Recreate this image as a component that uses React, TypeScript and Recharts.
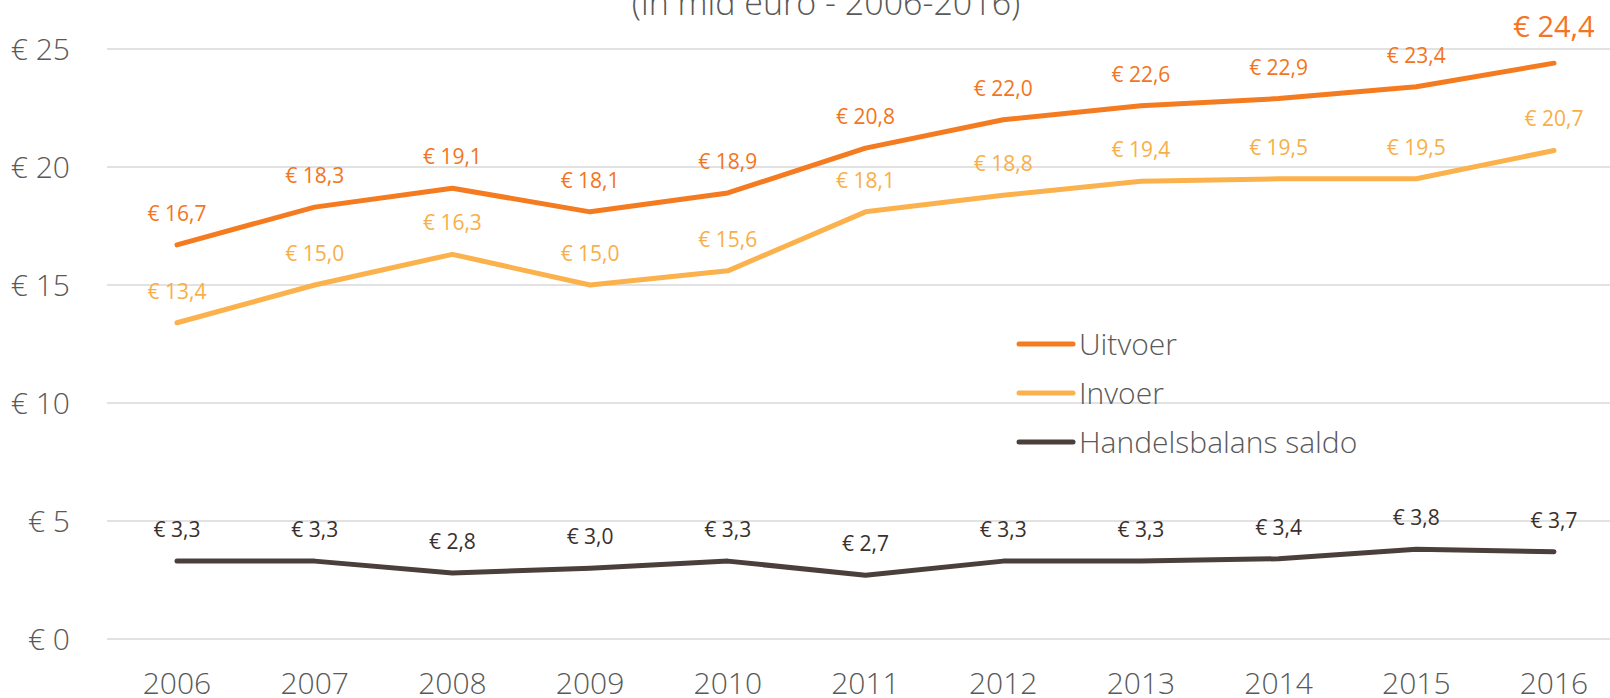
import { CartesianGrid, LabelList, Line, LineChart, XAxis, YAxis } from "recharts"

const years = ["2006", "2007", "2008", "2009", "2010", "2011", "2012", "2013", "2014", "2015", "2016"]
const uitvoer = [16.7, 18.3, 19.1, 18.1, 18.9, 20.8, 22.0, 22.6, 22.9, 23.4, 24.4]
const invoer = [13.4, 15.0, 16.3, 15.0, 15.6, 18.1, 18.8, 19.4, 19.5, 19.5, 20.7]
const saldo = [3.3, 3.3, 2.8, 3.0, 3.3, 2.7, 3.3, 3.3, 3.4, 3.8, 3.7]
const yTicks = [0, 5, 10, 15, 20, 25]

const data = years.map((year, i) => ({
  year,
  uitvoer: uitvoer[i],
  invoer: invoer[i],
  saldo: saldo[i],
}))

const series = [
  { key: "uitvoer", name: "Uitvoer", color: "#F47B20", labelColor: "#F37421" },
  { key: "invoer", name: "Invoer", color: "#FBB24D", labelColor: "#F9AE48" },
  { key: "saldo", name: "Handelsbalans saldo", color: "#4A3F3B", labelColor: "#3A302D" },
]

const FONT = "'Open Sans', 'Noto Sans', sans-serif"
const GREY = "#595959"

const euro = (v: number) => `€ ${v.toFixed(1).replace(".", ",")}`

function makeLabel(color: string, bigLast: boolean) {
  return (props: any) => {
    const { x, y, value, index } = props
    const big = bigLast && index === years.length - 1
    return (
      <text
        x={x}
        y={y - (big ? 26 : 24)}
        textAnchor="middle"
        fill={color}
        fontFamily={FONT}
        fontSize={big ? 29 : 21}
        fontWeight={400}
      >
        {euro(value)}
      </text>
    )
  }
}

export default function App() {
  return (
    <div
      style={{
        position: "relative",
        width: 1610,
        height: 698,
        overflow: "hidden",
        background: "#fff",
        fontFamily: FONT,
      }}
    >
      <style>{"body{margin:0}"}</style>
      <div
        style={{
          position: "absolute",
          left: 0,
          width: 1652,
          top: -15,
          lineHeight: "34px",
          fontSize: 34,
          fontWeight: 300,
          color: GREY,
          textAlign: "center",
          whiteSpace: "nowrap",
        }}
      >
        (in mld euro - 2006-2016)
      </div>
      <LineChart width={1624} height={698} data={data} margin={{ top: 49, right: 0, bottom: 0, left: 0 }}>
        <CartesianGrid vertical={false} stroke="#D9D9D9" strokeWidth={1.5} />
        <XAxis
          dataKey="year"
          axisLine={false}
          tickLine={false}
          padding={{ left: 70, right: 70 }}
          height={59}
          tickMargin={28}
          tick={{ fill: GREY, fontSize: 30, fontWeight: 300, fontFamily: FONT }}
        />
        <YAxis
          domain={[0, 25]}
          ticks={yTicks}
          width={107}
          axisLine={false}
          tickLine={false}
          tickMargin={31}
          tickFormatter={(v) => `€ ${v}`}
          tick={{ fill: GREY, fontSize: 30, fontWeight: 300, fontFamily: FONT }}
        />
        {series.map((s) => (
          <Line
            key={s.key}
            type="linear"
            dataKey={s.key}
            name={s.name}
            stroke={s.color}
            strokeWidth={5}
            strokeLinecap="round"
            strokeLinejoin="round"
            dot={false}
            activeDot={false}
            isAnimationActive={false}
          >
            <LabelList dataKey={s.key} content={makeLabel(s.labelColor, s.key === "uitvoer")} />
          </Line>
        ))}
      </LineChart>
      <div style={{ position: "absolute", left: 1016, top: 319 }}>
        {series.map((s) => (
          <div key={s.key} style={{ display: "flex", alignItems: "center", height: 49 }}>
            <svg width={60} height={10} style={{ marginRight: 3 }}>
              <line x1={3} y1={5} x2={57} y2={5} stroke={s.color} strokeWidth={5} strokeLinecap="round" />
            </svg>
            <span style={{ fontSize: 30, fontWeight: 300, color: GREY, whiteSpace: "nowrap" }}>{s.name}</span>
          </div>
        ))}
      </div>
    </div>
  )
}
